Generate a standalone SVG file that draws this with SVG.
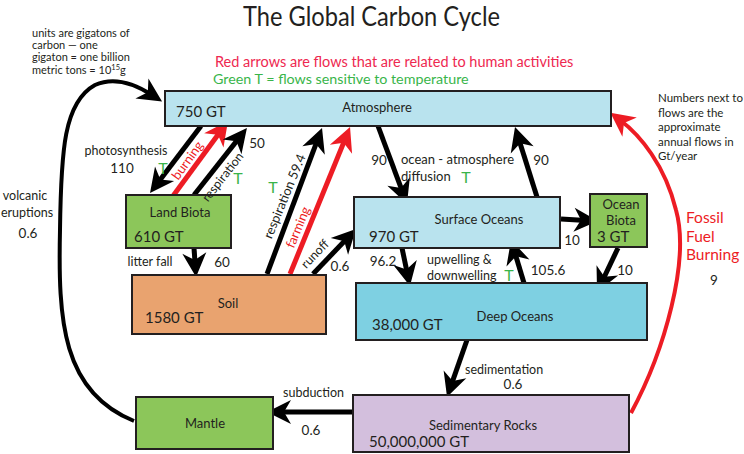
<svg xmlns="http://www.w3.org/2000/svg" width="744" height="454" viewBox="0 0 744 454">
<style>
text{font-family:Lato,"Liberation Sans",sans-serif;fill:#231f20;font-size:12.5px}
.box{stroke:#231f20;stroke-width:2}
.num{font-size:13.5px}
.big{font-size:15px}
.t{fill:#39b54a;font-size:16px}
.red{fill:#ed1c24}
.note{font-size:11px}
.mid{text-anchor:middle}
.k{stroke:#000;stroke-width:5;fill:none}
.r{stroke:#ed1c24;stroke-width:5;fill:none}
</style>
<defs>
<marker id="ak" viewBox="-14 -13 28 26" refX="0" refY="0" markerWidth="28" markerHeight="26" markerUnits="userSpaceOnUse" orient="auto"><path d="M12,0 L-12,-12 L-5,0 L-12,12 Z" fill="#000"/></marker>
<marker id="ar" viewBox="-14 -13 28 26" refX="0" refY="0" markerWidth="28" markerHeight="26" markerUnits="userSpaceOnUse" orient="auto"><path d="M12,0 L-12,-12 L-5,0 L-12,12 Z" fill="#ed1c24"/></marker>
</defs>
<rect width="744" height="454" fill="#fff"/>

<text x="243" y="26" textLength="257" lengthAdjust="spacingAndGlyphs" style="font-size:26px">The Global Carbon Cycle</text>
<g id="notes">
<text x="32" y="36.5" class="note">units are gigatons of</text>
<text x="32" y="48.5" class="note">carbon — one</text>
<text x="32" y="60.5" class="note">gigaton = one billion</text>
<text x="32" y="73.5" class="note">metric tons = 10<tspan style="font-size:7.5px" dy="-4">15</tspan><tspan dy="4">g</tspan></text>
<text x="215" y="67" style="font-size:14.5px;fill:#ee2850">Red arrows are flows that are related to human activities</text>
<text x="213" y="84" style="font-size:14.3px;fill:#39b54a">Green T = flows sensitive to temperature</text>
<text x="658" y="102" style="font-size:11.5px">Numbers next to</text>
<text x="658" y="117" style="font-size:11.5px">flows are the</text>
<text x="658" y="131" style="font-size:11.5px">approximate</text>
<text x="658" y="146" style="font-size:11.5px">annual flows in</text>
<text x="658" y="160" style="font-size:11.5px">Gt/year</text>
</g>

<g id="connectors">
<line class="k" x1="201" y1="126" x2="157.3" y2="183.4" marker-end="url(#ak)"/>
<line class="r" x1="173" y1="196" x2="220.9" y2="130.7" marker-end="url(#ar)"/>
<line class="k" x1="194" y1="195" x2="239.5" y2="137.4" marker-end="url(#ak)"/>
<line class="k" x1="267" y1="274" x2="317.8" y2="139.2" marker-end="url(#ak)"/>
<line class="r" x1="290" y1="274" x2="345.5" y2="138.1" marker-end="url(#ar)"/>
<line class="k" x1="313" y1="274" x2="347.7" y2="237.7" marker-end="url(#ak)"/>
<line class="k" x1="378" y1="126" x2="402.8" y2="192.7" marker-end="url(#ak)"/>
<line class="k" x1="537" y1="197" x2="518.6" y2="138.4" marker-end="url(#ak)"/>
<line class="k" x1="402" y1="248" x2="407.5" y2="274.3" marker-end="url(#ak)"/>
<line class="k" x1="524" y1="283" x2="514.5" y2="251.5" marker-end="url(#ak)"/>
<line class="k" x1="561" y1="219" x2="586" y2="220.4" marker-end="url(#ak)"/>
<line class="k" x1="618" y1="248" x2="602.2" y2="281.2" marker-end="url(#ak)"/>
<line class="k" x1="194" y1="248" x2="195.2" y2="265" marker-end="url(#ak)"/>
<line class="k" x1="467" y1="340" x2="451" y2="385.7" marker-end="url(#ak)"/>
<line class="k" x1="353" y1="412" x2="279" y2="412" marker-end="url(#ak)"/>
<path class="k" style="stroke-width:4" d="M134,421 C62,392 58,320 60,230 C61,150 64,102 95,85 C115,76 135,84 152,95" marker-end="url(#ak)"/>
<path class="r" style="stroke-width:4" d="M631,413 C665,350 690,260 676,210 C665,165 640,135 620,120" marker-end="url(#ar)"/>
</g>

<g id="atmosphere">
<rect class="box" x="165" y="91" width="446" height="35" fill="#b9e3ee"/>
<text x="377" y="111.5" class="mid" style="font-size:13px">Atmosphere</text>
<text x="176" y="117" class="big">750 GT</text>
</g>
<g id="land-biota">
<rect class="box" x="126" y="195" width="105" height="53" fill="#8cc65a"/>
<text x="180" y="216.5" class="mid" style="font-size:13px">Land Biota</text>
<text x="134" y="242" class="big">610 GT</text>
</g>
<g id="soil">
<rect class="box" x="132" y="275" width="194" height="59" fill="#e9a36f"/>
<text x="228" y="307.5" class="mid" style="font-size:13px">Soil</text>
<text x="145" y="322.5" class="big">1580 GT</text>
</g>
<g id="surface-oceans">
<rect class="box" x="354" y="197" width="206" height="51" fill="#b9e3ee"/>
<text x="479" y="223.5" class="mid" style="font-size:13px">Surface Oceans</text>
<text x="369" y="242" class="big">970 GT</text>
</g>
<g id="ocean-biota">
<rect class="box" x="590" y="194" width="57" height="53" fill="#8cc65a"/>
<text x="621" y="208.5" class="mid" style="font-size:13px">Ocean</text>
<text x="621" y="224.5" class="mid" style="font-size:13px">Biota</text>
<text x="597" y="242" class="big">3 GT</text>
</g>
<g id="deep-oceans">
<rect class="box" x="356" y="283" width="291" height="57" fill="#7ed0e2"/>
<text x="515" y="320.5" class="mid" style="font-size:13px">Deep Oceans</text>
<text x="372" y="330" class="big">38,000 GT</text>
</g>
<g id="sedimentary-rocks">
<rect class="box" x="353" y="395" width="276" height="57" fill="#d3bfdd"/>
<text x="483" y="430" class="mid" style="font-size:13px">Sedimentary Rocks</text>
<text x="369" y="447" class="big">50,000,000 GT</text>
</g>
<g id="mantle">
<rect class="box" x="136" y="397" width="137" height="52" fill="#8cc65a"/>
<text x="205" y="428" class="mid" style="font-size:13px">Mantle</text>
</g>

<g id="labels">
<text x="126" y="154.5" class="mid">photosynthesis</text>
<text x="122" y="172.5" class="mid num">110</text>
<text x="163" y="174" class="mid t">T</text>
<text transform="translate(191,163) rotate(-54)" class="mid red" style="font-size:13px">burning</text>
<text transform="translate(226,179.5) rotate(-52)" class="mid">respiration</text>
<text x="257" y="148" class="mid num">50</text>
<text x="238" y="184" class="mid t">T</text>
<text x="273" y="193" class="mid t">T</text>
<text transform="translate(288.7,198) rotate(-67.5)" class="mid" style="font-size:13px">respiration 59.4</text>
<text transform="translate(302,229) rotate(-67.5)" class="mid red" style="font-size:13px">farming</text>
<text transform="translate(318,257) rotate(-46)" class="mid">runoff</text>
<text x="340" y="271" class="mid num">0.6</text>
<text x="150" y="266" class="mid">litter fall</text>
<text x="222" y="266.5" class="mid num">60</text>
<text x="379" y="165" class="mid num">90</text>
<text x="401" y="164" style="font-size:13px">ocean - atmosphere</text>
<text x="401" y="181" style="font-size:13px">diffusion</text>
<text x="466" y="183" class="mid t">T</text>
<text x="541" y="165" class="mid num">90</text>
<text x="383" y="266" class="mid num">96.2</text>
<text x="427" y="263.5">upwelling &amp;</text>
<text x="427" y="279.5">downwelling</text>
<text x="509" y="281" class="mid t">T</text>
<text x="548" y="275" class="mid num">105.6</text>
<text x="572" y="245" class="mid num">10</text>
<text x="625" y="274.5" class="mid num">10</text>
<text x="465" y="374">sedimentation</text>
<text x="513" y="389" class="mid num">0.6</text>
<text x="283" y="397">subduction</text>
<text x="311" y="435" class="mid num">0.6</text>
<text x="25" y="199.5" class="mid">volcanic</text>
<text x="27" y="216.5" class="mid">eruptions</text>
<text x="28" y="237.5" class="mid num">0.6</text>
<text x="686" y="223" class="red" style="font-size:15.5px">Fossil</text>
<text x="686" y="242" class="red" style="font-size:15.5px">Fuel</text>
<text x="686" y="260" class="red" style="font-size:15.5px">Burning</text>
<text x="714" y="285" class="mid num">9</text>
</g>
</svg>
